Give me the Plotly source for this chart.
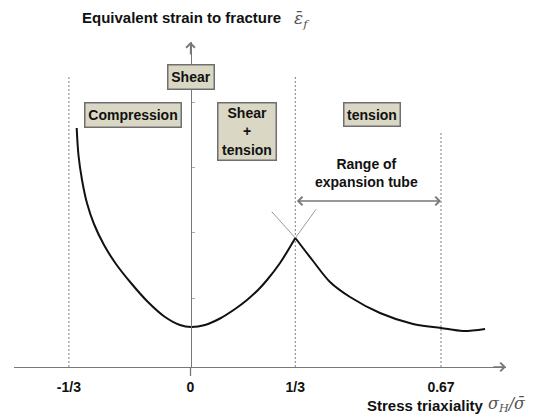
import plotly.graph_objects as go

# ---------------- data (schematic chart units) ----------------
# x: stress triaxiality position (schematic, 1/3 mark at 1.0), y: equivalent strain to fracture (arbitrary)
TICK_POS = [-1.16, 0.0, 1.0, 2.39]
TICK_TEXT = ["-1/3", "0", "1/3", "0.67"]

LEFT_X = [-1.086, -1.069, -1.035, -0.988, -0.921, -0.825, -0.711, -0.568, -0.406,
          -0.243, -0.100, 0.005, 0.138, 0.281, 0.425, 0.539, 0.644, 0.730, 0.854, 1.0]
LEFT_Y = [2.39, 2.12, 1.87, 1.64, 1.43, 1.22, 1.03, 0.84, 0.65,
          0.50, 0.42, 0.40, 0.42, 0.485, 0.58, 0.67, 0.77, 0.87, 1.04, 1.29]

RIGHT_X = [1.0, 1.169, 1.331, 1.522, 1.808, 2.123, 2.39, 2.60, 2.81]
RIGHT_Y = [1.29, 1.06, 0.85, 0.70, 0.54, 0.43, 0.39, 0.36, 0.38]

CROSS_A_X = [0.775, 1.0]
CROSS_A_Y = [1.553, 1.29]
CROSS_B_X = [1.0, 1.198]
CROSS_B_Y = [1.29, 1.577]

GUIDE_X = [-1.16, 1.0, 2.39]
GUIDE_TOP = [2.92, 2.92, 2.34]

RANGE_FROM = 1.0
RANGE_TO = 2.39
RANGE_Y = 1.66

Y_TICKS = [0.69, 1.345, 2.0, 2.645]

X_RANGE = [-1.684, 3.01]
Y_RANGE = [0.0, 3.25]

# ---------------- layout geometry ----------------
OFF = 8  # the page body adds an 8px margin; the figure is shrunk to compensate
W, H = 545 - OFF, 417 - OFF
ML, MR, MT, MB = 14 - OFF, 39, 42 - OFF, 50
PW, PH = W - ML - MR, H - MT - MB


def paper(px, py):
    """Reference-picture pixel position -> paper coordinates."""
    return (px - OFF - ML) / PW, (H - MB - (py - OFF)) / PH


FONT = "Liberation Sans, Arial, sans-serif"
SERIF = "DejaVu Serif, Liberation Serif, serif"
AX_COL = "#777777"

fig = go.Figure()

# guide (dotted) lines
for gx, gt in zip(GUIDE_X, GUIDE_TOP):
    fig.add_trace(go.Scatter(x=[gx, gx], y=[0, gt], mode="lines",
                             line=dict(color="#7f7f7f", width=1, dash="2px,2px"),
                             hoverinfo="skip", showlegend=False))

# tangent cross lines at the peak
for cx, cy in ((CROSS_A_X, CROSS_A_Y), (CROSS_B_X, CROSS_B_Y)):
    fig.add_trace(go.Scatter(x=cx, y=cy, mode="lines",
                             line=dict(color="#9a9a9a", width=1),
                             hoverinfo="skip", showlegend=False))

# fracture locus
for cx, cy in ((LEFT_X, LEFT_Y), (RIGHT_X, RIGHT_Y)):
    fig.add_trace(go.Scatter(x=cx, y=cy, mode="lines",
                             line=dict(color="#111111", width=2, shape="spline", smoothing=0.9),
                             hoverinfo="skip", showlegend=False))

y_pos = (0 - X_RANGE[0]) / (X_RANGE[1] - X_RANGE[0])

fig.update_layout(
    width=W, height=H,
    margin=dict(l=ML, r=MR, t=MT, b=MB),
    paper_bgcolor="white", plot_bgcolor="white",
    showlegend=False,
    xaxis=dict(range=X_RANGE, showgrid=False, zeroline=False,
               showline=True, linecolor=AX_COL, linewidth=1.3,
               tickvals=TICK_POS, ticktext=TICK_TEXT, ticks="",
               ticklabelstandoff=7,
               tickfont=dict(family=FONT, size=14, color="#111111", weight="bold")),
    yaxis=dict(range=Y_RANGE, showgrid=False, zeroline=False,
               anchor="free", position=y_pos, side="right",
               showline=True, linecolor=AX_COL, linewidth=1.3,
               tickvals=Y_TICKS, ticks="outside", ticklen=3, tickwidth=1,
               tickcolor="#aaaaaa", showticklabels=False),
)

# y-axis stub below x-axis
fig.add_shape(type="line", xref="x", yref="paper", x0=0, x1=0, y0=0, y1=-9 / PH,
              line=dict(color=AX_COL, width=1.3))

# axis arrowheads
fig.add_annotation(x=X_RANGE[1], y=0, xref="x", yref="y", ax=-14, ay=0, text="",
                   showarrow=True, arrowhead=4, arrowsize=1.3, arrowwidth=1.3,
                   arrowcolor=AX_COL)
fig.add_annotation(x=0, y=Y_RANGE[1], xref="x", yref="y", ax=0, ay=14, text="",
                   showarrow=True, arrowhead=4, arrowsize=1.3, arrowwidth=1.3,
                   arrowcolor=AX_COL)

# range double arrow
fig.add_annotation(x=RANGE_TO, y=RANGE_Y, xref="x", yref="y",
                   ax=RANGE_FROM, ay=RANGE_Y, axref="x", ayref="y", text="",
                   showarrow=True, arrowside="end+start", arrowhead=4, startarrowhead=4,
                   arrowsize=1.3, startarrowsize=1.3, arrowwidth=1.3, arrowcolor=AX_COL)

bold = dict(family=FONT, size=14, color="#111111", weight="bold")

px_, py_ = paper(366.5, 173)
fig.add_annotation(x=px_, y=py_, xref="paper", yref="paper", showarrow=False,
                   xanchor="center", yanchor="middle",
                   text="Range of<br>expansion tube", font=bold, align="center")

# boxes
BOX_BG = "#dad7c4"
BOX_BD = "#6f6f6f"
boxes = [
    ("Compression", 133, 115, 91, 19),
    ("Shear", 191, 77, 41, 19),
    ("Shear<br>+<br>tension", 247, 131.5, 53, 52),
    ("tension", 372, 114.5, 51, 18),
]
for txt, bx, by, bw, bh in boxes:
    xx, yy = paper(bx, by)
    fig.add_annotation(x=xx, y=yy, xref="paper", yref="paper", showarrow=False,
                       xanchor="center", yanchor="middle",
                       text=txt, font=bold, align="center",
                       width=bw, height=bh, bgcolor=BOX_BG, bordercolor=BOX_BD,
                       borderwidth=1.5, borderpad=2)

# titles
title_font = dict(family=FONT, size=15, color="#111111", weight="bold")
sym_font = dict(family=SERIF, size=17, color="#555555", style="italic")
sym_font_x = dict(family=SERIF, size=16, color="#555555", style="italic")

xx, yy = paper(80, 17)
fig.add_annotation(x=xx, y=yy, xref="paper", yref="paper", showarrow=False,
                   xanchor="left", yanchor="middle",
                   text="Equivalent strain to fracture", font=title_font)
xx, yy = paper(292, 19)
fig.add_annotation(x=xx, y=yy, xref="paper", yref="paper", showarrow=False,
                   xanchor="left", yanchor="middle",
                   text="ε\u0304<sub>f</sub>", font=sym_font)

xx, yy = paper(365, 405)
fig.add_annotation(x=xx, y=yy, xref="paper", yref="paper", showarrow=False,
                   xanchor="left", yanchor="middle",
                   text="Stress triaxiality", font=title_font)
xx, yy = paper(486, 404)
fig.add_annotation(x=xx, y=yy, xref="paper", yref="paper", showarrow=False,
                   xanchor="left", yanchor="middle",
                   text="σ<sub>H</sub>/σ\u0304", font=sym_font_x)

fig.write_html("out.html", config=dict(displayModeBar=False))
